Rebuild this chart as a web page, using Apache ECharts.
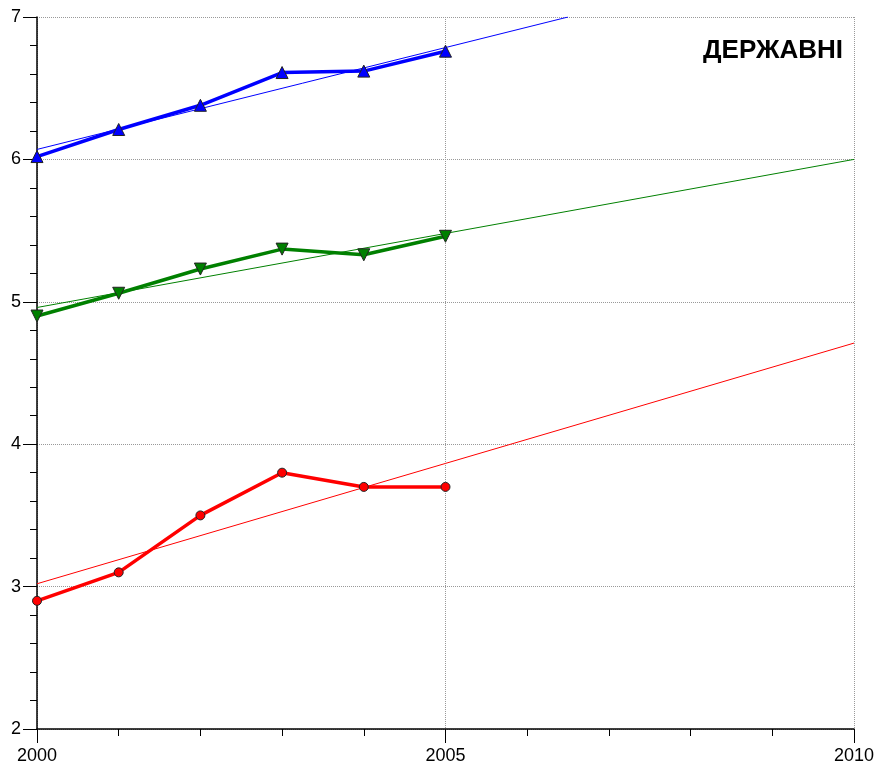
<!DOCTYPE html>
<html><head><meta charset="utf-8">
<script src="https://cdn.jsdelivr.net/npm/echarts@6/dist/echarts.min.js"></script>
<style>html,body{margin:0;padding:0;background:#fff}#c{width:877px;height:767px}</style>
</head><body><div id="c"></div>
<script>
const years = [2000, 2001, 2002, 2003, 2004, 2005];
const blueValues = [6.02, 6.21, 6.38, 6.61, 6.62, 6.76];
const greenValues = [4.90, 5.06, 5.23, 5.37, 5.33, 5.46];
const redValues = [2.90, 3.10, 3.50, 3.80, 3.70, 3.70];
// trend line endpoints
const blueTrend = [[2000, 6.07], [2006.5, 7.0]];
const greenTrend = [[2000, 4.96], [2010, 6.0]];
const redTrend = [[2000, 3.02], [2010, 4.71]];
const titleText = 'ДЕРЖАВНІ';

const pair = (vals) => years.map((y, i) => [y, vals[i]]);
const font = 'Liberation Sans, Arial, sans-serif';

const chart = echarts.init(document.getElementById('c'));
const trend = (data, color) => ({
  type: 'line', data, symbol: 'none', silent: true, clip: true, z: 2,
  lineStyle: { color, width: 1 }
});
const main = (vals, color, symbol, size, rotate) => ({
  type: 'line', data: pair(vals), symbol, symbolSize: size, symbolRotate: rotate || 0,
  z: 3, clip: false,
  lineStyle: { color, width: 3.5 },
  itemStyle: { color, borderColor: '#222', borderWidth: 1 }
});
chart.setOption({
  animation: false,
  grid: { left: 37, right: 23, top: 17, bottom: 38 },
  xAxis: {
    type: 'value', min: 2000, max: 2010, interval: 5,
    axisLine: { lineStyle: { color: '#000', width: 1.5 } },
    axisTick: { length: 14, lineStyle: { color: '#000' } },
    minorTick: { show: true, splitNumber: 5, length: 7, lineStyle: { color: '#000' } },
    splitLine: { show: true, lineStyle: { color: '#999', type: [1, 1], width: 1 } },
    axisLabel: { color: '#000', fontFamily: font, fontSize: 18, margin: 18, formatter: (v) => String(v) }
  },
  yAxis: {
    type: 'value', min: 2, max: 7, interval: 1,
    axisLine: { show: true, lineStyle: { color: '#000', width: 1.5 } },
    axisTick: { show: true, length: 14, lineStyle: { color: '#000' } },
    minorTick: { show: true, splitNumber: 5, length: 7, lineStyle: { color: '#000' } },
    splitLine: { show: true, lineStyle: { color: '#999', type: [1, 1], width: 1 } },
    axisLabel: { color: '#000', fontFamily: font, fontSize: 18, margin: 16 }
  },
  graphic: [{
    type: 'text', right: 34, top: 38,
    style: { text: titleText, font: 'bold 26px ' + font, fill: '#000' }
  }],
  series: [
    trend(blueTrend, '#0000ff'),
    trend(greenTrend, '#008000'),
    trend(redTrend, '#ff0000'),
    main(blueValues, '#0000ff', 'triangle', 12),
    main(greenValues, '#008000', 'triangle', 12, 180),
    main(redValues, '#ff0000', 'circle', 9)
  ]
});
</script></body></html>
